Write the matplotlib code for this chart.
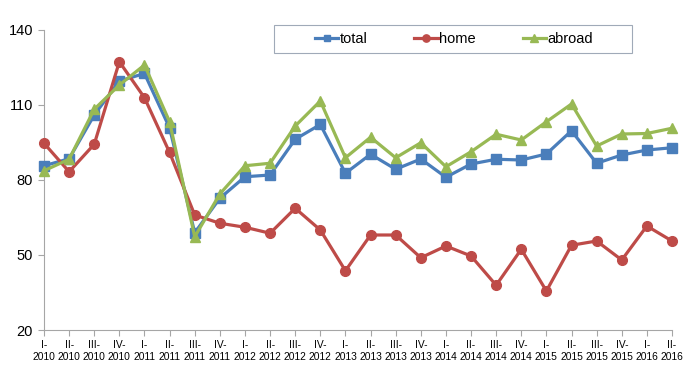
import matplotlib
matplotlib.use("Agg")
import matplotlib.pyplot as plt
from matplotlib.patches import Rectangle

plt.rcParams['font.family'] = ['Liberation Sans', 'DejaVu Sans']

quarters = ["I-", "II-", "III-", "IV-"]
years = [2010, 2011, 2012, 2013, 2014, 2015, 2016]
labels = [f"{q}\n{y}" for y in years for q in quarters][:26]

total = [85.7, 88.5, 106.0, 119.6, 122.6, 100.8, 58.9, 72.7, 81.3, 82.0, 96.3, 102.2,
         82.7, 90.3, 84.3, 88.4, 81.1, 86.4, 88.3, 88.0, 90.4, 99.7, 86.7, 90.0, 92.0, 92.9]
home = [94.7, 83.3, 94.3, 127.3, 112.9, 91.0, 66.0, 62.7, 61.1, 58.7, 68.7, 60.0,
        43.7, 58.0, 58.0, 48.9, 53.6, 49.6, 37.9, 52.3, 35.6, 53.9, 55.6, 48.0, 61.6, 55.6]
abroad = [83.7, 88.3, 108.3, 118.0, 126.0, 103.3, 57.3, 74.4, 85.7, 86.7, 101.6, 111.6,
          88.9, 97.1, 88.9, 94.9, 85.3, 91.3, 98.3, 96.0, 103.3, 110.4, 93.6, 98.4, 98.6, 100.7]
yticks = [20, 50, 80, 110, 140]

W, H = 699, 385
fig = plt.figure(figsize=(W / 100, H / 100), dpi=100)
ax = fig.add_axes([44 / W, 1 - 330 / H, (672 - 44) / W, 300 / H])

x = list(range(len(labels)))
lt, = ax.plot(x, total, color="#4A7EBB", lw=2.3, marker="s", ms=6.5, label="total", clip_on=False, zorder=3)
lh, = ax.plot(x, home, color="#BE4B48", lw=2.3, marker="o", ms=7, label="home", clip_on=False, zorder=3)
la, = ax.plot(x, abroad, color="#98B954", lw=2.3, marker="^", ms=7, label="abroad", clip_on=False, zorder=4)

ax.set_xlim(0, len(labels) - 1)
ax.set_ylim(20, 140)
ax.set_yticks(yticks)
ax.set_xticks(x)
ax.set_xticklabels(labels, fontsize=7.4, linespacing=1.25)
ax.tick_params(axis="y", labelsize=10.5, length=4, color="#A6A6A6", width=0.8, pad=4)
ax.tick_params(axis="x", length=4, color="#A6A6A6", width=0.8, pad=3)
for s in ["top", "right"]:
    ax.spines[s].set_visible(False)
for s in ["left", "bottom"]:
    ax.spines[s].set_color("#A6A6A6")
    ax.spines[s].set_linewidth(0.8)

fig.patches.append(Rectangle((274 / W, 1 - 53 / H), (632 - 274) / W, 28 / H,
                             transform=fig.transFigure, fill=False, edgecolor="#A0AAB8", lw=0.8))
fig.legend(handles=[lt, lh, la], loc="center", bbox_to_anchor=(454 / W, 1 - 39 / H),
           ncol=3, frameon=False, fontsize=10.5, handlelength=1.6, handletextpad=0.1,
           columnspacing=3.2, numpoints=1, markerscale=0.75)

fig.savefig("out.png", dpi=100)
